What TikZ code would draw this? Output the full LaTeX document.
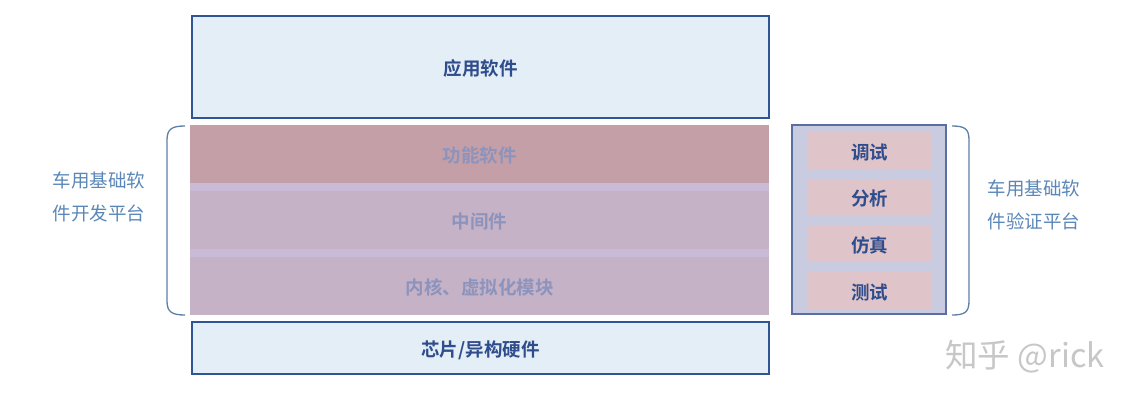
\documentclass[tikz,border=0pt]{standalone}
\usepackage{fontspec}
\newfontfamily\cjk{Noto Sans CJK SC}
\newfontfamily\cjkb{Noto Sans CJK SC Bold}
\definecolor{boxfill}{HTML}{E3EEF6}
\definecolor{boxline}{HTML}{2F5597}
\definecolor{labeldark}{HTML}{2F4C8C}
\definecolor{bandred}{HTML}{C49FA7}
\definecolor{bandpurple}{HTML}{C6B2C6}
\definecolor{strip}{HTML}{C9BAD7}
\definecolor{bandtext}{HTML}{8C93BC}
\definecolor{verfill}{HTML}{C9CBE1}
\definecolor{verline}{HTML}{5B6EA2}
\definecolor{itemfill}{HTML}{DFC5C9}
\definecolor{sidetext}{HTML}{5A87B8}
\definecolor{bracecol}{HTML}{5F7FA6}
\tikzset{
  x=1pt,y=-1pt,
  lbl/.style={font=\cjkb\fontsize{18.5}{22}\selectfont,text height=20pt,text depth=2.2pt},
  mainbox/.style={lbl,draw=boxline,line width=1.2pt,fill=boxfill,minimum width=577pt,inner sep=0pt,text=labeldark},
  band/.style={lbl,minimum width=579pt,minimum height=58pt,inner sep=0pt,text=bandtext},
  stripbox/.style={fill=strip,minimum width=579pt,minimum height=8pt,inner sep=0pt},
  item/.style={lbl,fill=itemfill,minimum width=125pt,minimum height=37pt,inner sep=0pt,text=labeldark},
  side/.style={font=\cjk\fontsize{18.5}{33}\selectfont,text=sidetext,align=center},
  bracepath/.style={draw=bracecol,line width=1.3pt}
}
\begin{document}
\begin{tikzpicture}
\useasboundingbox[fill=white] (0,0) rectangle (1136,404);
% top and bottom boxes
\node[mainbox,minimum height=102pt] (app) at (480.5,67) {应用软件};
\node[mainbox,minimum height=52pt] (chip) at (480.5,348) {芯片/异构硬件};
% layered bands
\node[band,fill=bandred] (func) at (479.5,154) {功能软件};
\node[stripbox] (s1) at (479.5,187) {};
\node[band,fill=bandpurple] (mid) at (479.5,220) {中间件};
\node[stripbox] (s2) at (479.5,253) {};
\node[band,fill=bandpurple] (kern) at (479.5,286) {内核、虚拟化模块};
% verification platform
\node[draw=verline,line width=1.2pt,fill=verfill,minimum width=154pt,minimum height=189pt,inner sep=0pt] (ver) at (869,219.5) {};
\node[item] (dbg) at (869.5,150.5) {调试};
\node[item] (ana) at (869.5,197) {分析};
\node[item] (sim) at (869.5,243.5) {仿真};
\node[item] (tst) at (869.5,290.5) {测试};
% braces
\draw[bracepath] (185,126) .. controls (172,126) and (167,129) .. (167,140)
  -- (167,301) .. controls (167,312) and (172,315) .. (185,315);
\draw[bracepath] (952,126) .. controls (965,126) and (969,129) .. (969,140)
  -- (969,301) .. controls (969,312) and (965,315) .. (952,315);
% side labels
\node[side] (devlbl) at (99,197) {车用基础软\\件开发平台};
\node[side] (verlbl) at (1034,205) {车用基础软\\件验证平台};
% watermark
\node[font=\cjk\fontsize{32.5}{36}\selectfont,text=black!22] (wm) at (1025,357) {知乎 @rick};
\end{tikzpicture}
\end{document}
